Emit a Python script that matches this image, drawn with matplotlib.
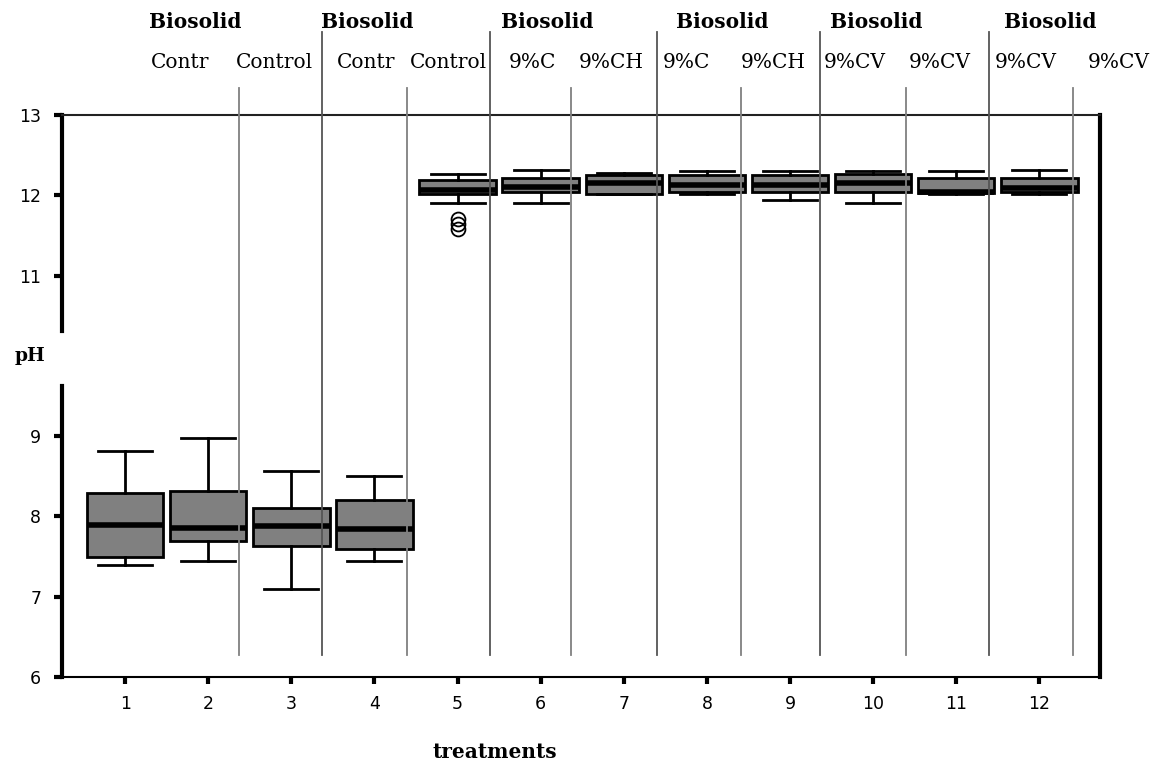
import matplotlib
matplotlib.use('Agg')
import matplotlib.pyplot as plt
import matplotlib.transforms as mtransforms

# box statistics (pH)
treatments = list(range(1, 13))
whislo = [7.40, 7.44, 7.09, 7.44, 11.91, 11.91, 12.01, 12.02, 11.94, 11.91, 12.02, 12.02]
q1 = [7.50, 7.69, 7.63, 7.59, 12.02, 12.04, 12.01, 12.04, 12.04, 12.04, 12.03, 12.04]
med = [7.89, 7.85, 7.88, 7.84, 12.06, 12.10, 12.15, 12.13, 12.13, 12.15, 12.04, 12.09]
q3 = [8.29, 8.32, 8.11, 8.20, 12.19, 12.21, 12.25, 12.25, 12.25, 12.27, 12.21, 12.21]
whishi = [8.82, 8.98, 8.57, 8.50, 12.26, 12.31, 12.28, 12.30, 12.30, 12.30, 12.30, 12.31]
outliers = {5: [11.70, 11.64, 11.58]}

# labels above the plot
group_title = 'Biosolid'
group_x = [1.84, 3.91, 6.08, 8.18, 10.04, 12.13]
sub_labels = ['Contr', 'Control', 'Contr', 'Control', '9%C', '9%CH',
              '9%C', '9%CH', '9%CV', '9%CV', '9%CV', '9%CV']
sub_x = [1.66, 2.80, 3.90, 4.89, 5.90, 6.85, 7.75, 8.80, 9.78, 10.80, 11.84, 12.95]
sep_x = [2.37, 3.37, 4.39, 5.39, 6.37, 7.40, 8.41, 9.36, 10.40, 11.40, 12.40]
sep_long = [False, True, False, True, False, True, False, True, False, True, False]
yticks = [6, 7, 8, 9, 11, 12, 13]

fig = plt.figure(figsize=(11.53, 7.61), dpi=100)
ax = fig.add_axes([62/1153, 84/761, 1038/1153, 562/761])

stats = []
for i, t in enumerate(treatments):
    stats.append(dict(whislo=whislo[i], q1=q1[i], med=med[i], q3=q3[i],
                      whishi=whishi[i], fliers=outliers.get(t, [])))

ax.bxp(stats, positions=treatments, widths=0.92, patch_artist=True,
       boxprops=dict(facecolor='#808080', edgecolor='black', linewidth=2),
       medianprops=dict(color='black', linewidth=4),
       whiskerprops=dict(color='black', linewidth=2),
       capprops=dict(color='black', linewidth=2),
       capwidths=0.65,
       flierprops=dict(marker='o', markersize=10, markerfacecolor='none',
                       markeredgecolor='black', markeredgewidth=1.3))

ax.set_xlim(0.24, 12.73)
ax.set_ylim(6, 13)

trans = mtransforms.blended_transform_factory(ax.transData, ax.transAxes)
for x, long in zip(sep_x, sep_long):
    top = 14.03 if long else 13.34
    ax.plot([x, x], [6.27, top], color='#555555' if long else '#808080',
            lw=1.3, clip_on=False, zorder=3)

for x in group_x:
    ax.text(x, 1.165, group_title, transform=trans, ha='center', va='center',
            family='DejaVu Serif', fontweight='bold', fontsize=14.5)
for x, s in zip(sub_x, sub_labels):
    ax.text(x, 1.094, s, transform=trans, ha='center', va='center',
            family='DejaVu Serif', fontsize=14.5)

# spines: broken left axis, thick right
ax.spines['left'].set_visible(False)
ytrans = mtransforms.blended_transform_factory(ax.transAxes, ax.transData)
ax.plot([0, 0], [6, 9.62], color='black', lw=3, transform=ytrans, clip_on=False)
ax.plot([0, 0], [10.31, 13], color='black', lw=3, transform=ytrans, clip_on=False)
ax.spines['right'].set_linewidth(3)
ax.spines['top'].set_linewidth(1.5)
ax.spines['top'].set_color('#222222')
ax.spines['bottom'].set_linewidth(1.5)

ax.set_xticks(treatments)
ax.set_yticks(yticks)
ax.tick_params(axis='x', direction='out', length=5, width=3, pad=8, labelsize=12.5)
ax.tick_params(axis='y', direction='out', length=6, width=3, pad=9, labelsize=12.5)

ax.text(-0.031, 10.0, 'pH', transform=ytrans, ha='center', va='center',
        family='DejaVu Serif', fontweight='bold', fontsize=13.5)
ax.text(5.45, -0.133, 'treatments', transform=trans, ha='center', va='center',
        family='DejaVu Serif', fontweight='bold', fontsize=14.5)

fig.savefig('out.png', dpi=100)
